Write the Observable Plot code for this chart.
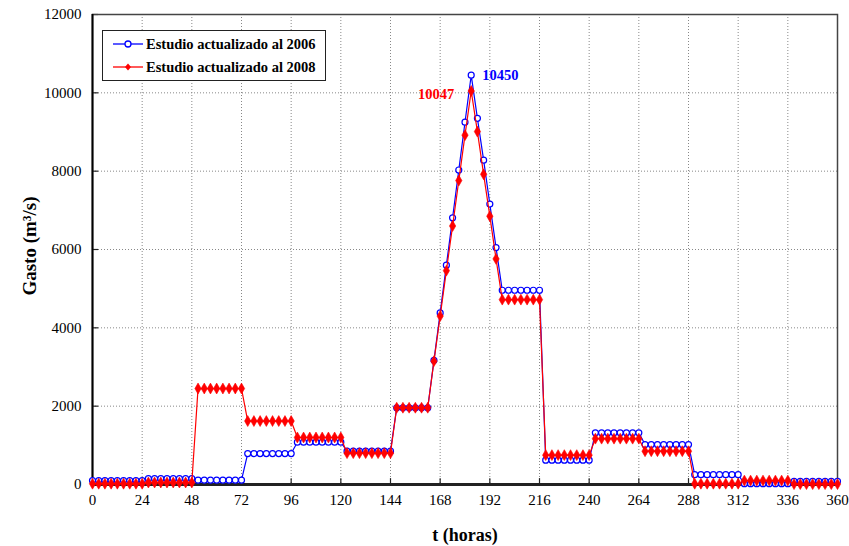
<!DOCTYPE html>
<html>
<head>
<meta charset="utf-8">
<script src="https://cdn.jsdelivr.net/npm/d3@7"></script>
<script src="https://cdn.jsdelivr.net/npm/@observablehq/plot@0.6"></script>
<style>
  html, body { margin: 0; padding: 0; background: #fff; }
  #wrap { position: relative; width: 849px; height: 546px; font-family: "Liberation Serif", serif; }
  #legend { position: absolute; left: 102px; top: 30px; width: 224px; height: 51px; border: 1.3px solid #222; background: #fff; box-sizing: border-box; font-weight: bold; font-size: 14.5px; }
  #legend .row { position: absolute; left: 10px; height: 18px; display: flex; align-items: center; white-space: nowrap; }
  #legend svg { margin-right: 3px; }
  .title { position: absolute; font-weight: bold; font-size: 18px; white-space: nowrap; }
  #ytitle { left: 30px; top: 246px; font-size: 19px; transform: translate(-50%, -50%) rotate(-90deg); }
  #xtitle { left: 465px; top: 535px; transform: translate(-50%, -50%); }
</style>
</head>
<body>
<div id="wrap">
  <div id="chart"></div>
  <div id="legend">
    <div class="row" style="top:4px"><svg width="30" height="12"><line x1="0" y1="6" x2="30" y2="6" stroke="#0000ff" stroke-width="1.3"/><circle cx="15" cy="6" r="3" fill="#fff" stroke="#0000ff" stroke-width="1.3"/></svg>Estudio actualizado al 2006</div>
    <div class="row" style="top:27px"><svg width="30" height="12"><line x1="0" y1="6" x2="30" y2="6" stroke="#ff0000" stroke-width="1.3"/><path d="M15,2.5 L18,6 L15,9.5 L12,6 Z" fill="#ff0000"/></svg>Estudio actualizado al 2008</div>
  </div>
  <div class="title" id="ytitle">Gasto (m³/s)</div>
  <div class="title" id="xtitle">t (horas)</div>
</div>
<script>
const hours = [0,3,6,9,12,15,18,21,24,27,30,33,36,39,42,45,48,51,54,57,60,63,66,69,72,75,78,81,84,87,90,93,96,99,102,105,108,111,114,117,120,123,126,129,132,135,138,141,144,147,150,153,156,159,162,165,168,171,174,177,180,183,186,189,192,195,198,201,204,207,210,213,216,219,222,225,228,231,234,237,240,243,246,249,252,255,258,261,264,267,270,273,276,279,282,285,288,291,294,297,300,303,306,309,312,315,318,321,324,327,330,333,336,339,342,345,348,351,354,357,360];

const gasto2006 = [
  100,
  100,100,100,100,100,100,100,100,
  150,150,150,150,150,150,150,150,
  110,110,110,110,110,110,110,110,
  790,790,790,790,790,790,790,790,
  1080,1080,1080,1080,1080,1080,1080,1080,
  850,850,850,850,850,850,850,850,
  1960,1960,1960,1960,1960,1960,
  3170,4380,5600,6810,8030,9250,10450,9350,8280,7160,6050,
  4960,4960,4960,4960,4960,4960,4960,
  620,620,620,620,620,620,620,620,
  1320,1320,1320,1320,1320,1320,1320,1320,
  1020,1020,1020,1020,1020,1020,1020,1020,
  250,250,250,250,250,250,250,250,
  20,20,20,20,20,20,20,20,
  80,80,80,80,80,80,80,80
];

const gasto2008 = [
  20,
  20,20,20,20,20,20,20,20,
  50,50,50,50,50,50,50,50,
  2450,2450,2450,2450,2450,2450,2450,2450,
  1620,1620,1620,1620,1620,1620,1620,1620,
  1200,1200,1200,1200,1200,1200,1200,1200,
  800,800,800,800,800,800,800,800,
  1960,1960,1960,1960,1960,1960,
  3150,4300,5460,6600,7760,8920,10047,9010,7920,6850,5760,
  4720,4720,4720,4720,4720,4720,4720,
  750,750,750,750,750,750,750,750,
  1170,1170,1170,1170,1170,1170,1170,1170,
  850,850,850,850,850,850,850,850,
  20,20,20,20,20,20,20,20,
  100,100,100,100,100,100,100,100,
  10,10,10,10,10,10,10,10
];

const xTicks = [0,24,48,72,96,120,144,168,192,216,240,264,288,312,336,360];
const yTicks = [0,2000,4000,6000,8000,10000,12000];
const peak2006 = [{t: 183, q: 10450, label: "10450"}];
const peak2008 = [{t: 183, q: 10047, label: "10047"}];

const d06 = hours.map((t, i) => ({t, q: gasto2006[i]}));
const d08 = hours.map((t, i) => ({t, q: gasto2008[i]}));

const FONT = "Liberation Serif";

const chart = Plot.plot({
  width: 849,
  height: 546,
  marginLeft: 92,
  marginRight: 12,
  marginTop: 14,
  marginBottom: 62,
  style: {fontFamily: FONT, fontSize: "15px", color: "#000", background: "#fff"},
  x: {domain: [0, 360], ticks: xTicks},
  y: {domain: [0, 12000], ticks: yTicks},
  marks: [
    Plot.gridX(xTicks.slice(1, -1), {stroke: "#888", strokeOpacity: 1, strokeDasharray: "1,2", strokeWidth: 1}),
    Plot.gridY(yTicks.slice(1, -1), {stroke: "#888", strokeOpacity: 1, strokeDasharray: "1,2", strokeWidth: 1}),
    Plot.axisX(xTicks, {tickSize: 0, tickPadding: 10, fontSize: 15, fontFamily: FONT, label: null}),
    Plot.axisY(yTicks, {tickSize: 0, tickPadding: 11, fontSize: 15, fontFamily: FONT, label: null, tickFormat: d => String(d)}),
    Plot.ruleX(xTicks, {y1: 0, y2: 150, stroke: "#222", strokeWidth: 1.2}),
    Plot.ruleY(yTicks, {x1: 0, x2: 3, stroke: "#222", strokeWidth: 1.2}),
    Plot.frame({stroke: "#444", strokeWidth: 1.5}),
    Plot.ruleX([0], {stroke: "#000", strokeWidth: 2}),
    Plot.ruleY([0], {stroke: "#222", strokeWidth: 3}),
    Plot.line(d06, {x: "t", y: "q", stroke: "#0000ff", strokeWidth: 1.2}),
    Plot.dot(d06, {x: "t", y: "q", r: 3, stroke: "#0000ff", fill: "#fff", strokeWidth: 1.2}),
    Plot.line(d08, {x: "t", y: "q", stroke: "#ff0000", strokeWidth: 1.2}),
    Plot.dot(d08, {x: "t", y: "q", r: 3.3, symbol: "diamond", fill: "#ff0000", stroke: "#ff0000", strokeWidth: 0.6}),
    Plot.text(peak2006, {x: "t", y: "q", text: "label", fill: "#0000ff", dx: 11, dy: 0, fontWeight: "bold", fontSize: 14.5, fontFamily: FONT, textAnchor: "start"}),
    Plot.text(peak2008, {x: "t", y: "q", text: "label", fill: "#ff0000", dx: -17, dy: 3, fontWeight: "bold", fontSize: 14.5, fontFamily: FONT, textAnchor: "end"})
  ]
});

chart.querySelectorAll("g, text").forEach(el => {
  el.setAttribute("font-family", FONT);
  el.style.fontFamily = "'Liberation Serif', serif";
  el.style.fontVariant = "normal";
});
chart.style.fontFamily = "'Liberation Serif', serif";
document.getElementById("chart").appendChild(chart);
</script>
</body>
</html>
